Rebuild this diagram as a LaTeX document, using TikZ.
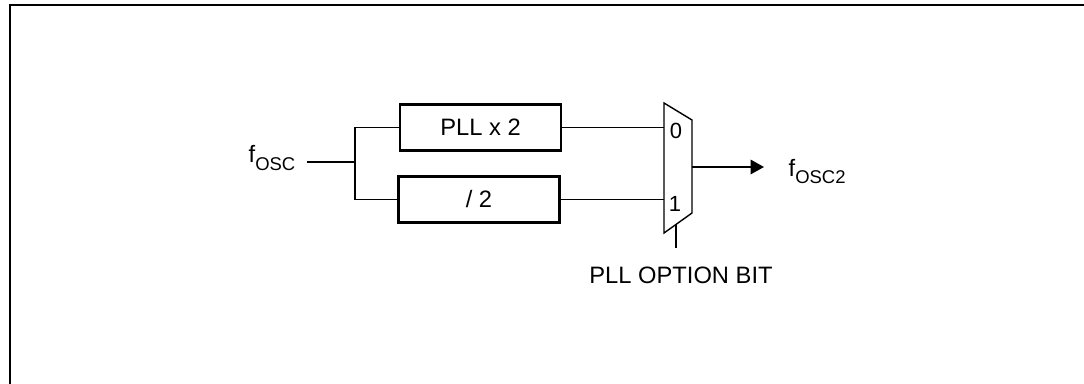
\documentclass[tikz,border=0pt]{standalone}
\usepackage{fontspec}
\setmainfont{Liberation Sans}
\usepackage{tikz}
\usetikzlibrary{arrows.meta,positioning}

\newcommand{\freq}[1]{f\raisebox{-0.3em}{\fontsize{10.5}{10.5}\selectfont #1}}

\begin{document}
\begin{tikzpicture}[
    x=0.02cm, y=-0.02cm,
    font=\fontsize{13.5}{16}\selectfont,
    block/.style={rectangle, draw, line width=1.2pt, minimum width=3.22cm, minimum height=0.92cm},
    wire/.style={line width=1.1pt},
    arrow/.style={wire, -{Triangle[length=0.27cm, width=0.29cm]}},
    muxlabel/.style={font=\fontsize{12.5}{14}\selectfont, inner sep=0pt}
]
    \useasboundingbox (0,0) rectangle (1084,383);

    % Frame
    \draw[line width=1.7pt] (10,395) -- (10,5) -- (1095,5);

    % Blocks
    \node[block] (pll) at (480.5,127.5) {PLL x 2};
    \node[block] (div) at (479,199.5) {/ 2};

    % Multiplexer
    \coordinate (mtl) at (664,103);
    \coordinate (mtr) at (692,120);
    \coordinate (mbr) at (692,213);
    \coordinate (mbl) at (664,233);
    \draw[line width=0.8pt] (mtl) -- (mtr) -- (mbr) -- (mbl) -- cycle;
    \coordinate (mux0) at (664,127.5);
    \coordinate (mux1) at (664,199.5);
    \coordinate (muxout) at (692,167);
    \coordinate (sel) at (676,224.4);
    \node[muxlabel] (in0) at (676,131) {0};
    \node[muxlabel] (in1) at (675,204) {1};

    % Input
    \node (fosc) at (272,158) {\freq{OSC}};
    \coordinate (split) at (355,162);

    % Arrows
    \draw[wire] ([xshift=0.12cm]fosc.east |- split) -- (split);
    \draw[wire] (pll.west) -| (split) |- (div.west);
    \draw[wire] (pll.east) -- (mux0);
    \draw[wire] (div.east) -- (mux1);
    \coordinate (outtip) at (764,167);
    \draw[arrow] (muxout) -- (outtip);
    \coordinate (selend) at (676,248);
    \draw[wire] (sel) -- (selend);

    % Labels
    \node[right=0.37cm of outtip, yshift=-0.09cm] (fosc2) {\freq{OSC2}};
    \node[below=0.26cm of selend, xshift=0.1cm] (optbit) {PLL OPTION BIT};

\end{tikzpicture}
\end{document}
